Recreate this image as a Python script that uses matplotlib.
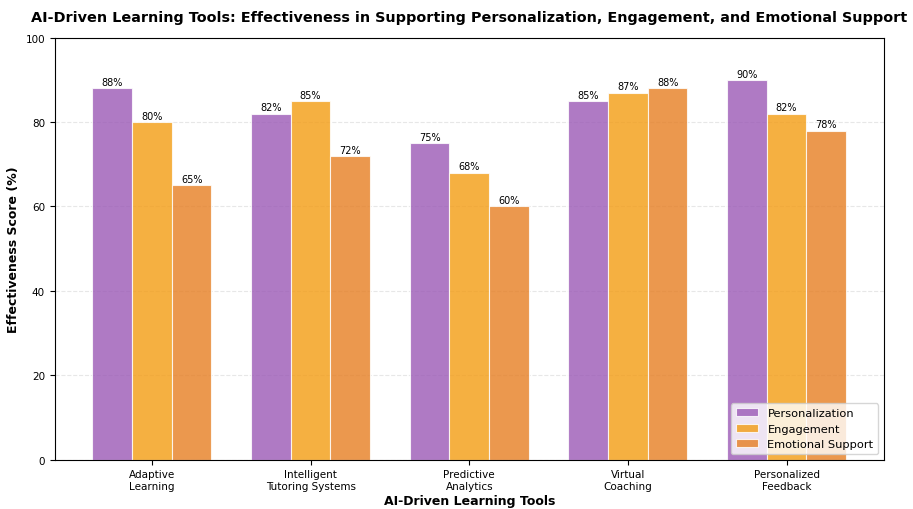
"""Grouped bar chart of AI-driven learning tool effectiveness."""

import numpy as np
import matplotlib.pyplot as plt

# Data
tools = [
    "Adaptive\nLearning",
    "Intelligent\nTutoring Systems",
    "Predictive\nAnalytics",
    "Virtual\nCoaching",
    "Personalized\nFeedback",
]
personalization = [88, 82, 75, 85, 90]
engagement = [80, 85, 68, 87, 82]
emotional_support = [65, 72, 60, 88, 78]

series = [
    ("Personalization", personalization, "#9b59b6"),
    ("Engagement", engagement, "#f39c12"),
    ("Emotional Support", emotional_support, "#e67e22"),
]

fig, ax = plt.subplots(figsize=(9.13, 5.1), dpi=100)

x = np.arange(len(tools))
width = 0.25

for i, (label, values, color) in enumerate(series):
    bars = ax.bar(x + (i - 1) * width, values, width, label=label,
                  color=color, alpha=0.8, edgecolor="white", linewidth=0.8)
    # Value labels on top of each bar
    for bar in bars:
        h = bar.get_height()
        ax.text(bar.get_x() + bar.get_width() / 2, h + 0.3, f"{h:.0f}%",
                ha="center", va="bottom", fontsize=7)

ax.set_ylim(0, 100)
ax.set_xticks(x)
ax.set_xticklabels(tools, fontsize=7.5)
ax.tick_params(axis="y", labelsize=7.5)
ax.set_xlabel("AI-Driven Learning Tools", fontsize=9, fontweight="bold",
              labelpad=2)
ax.set_ylabel("Effectiveness Score (%)", fontsize=9, fontweight="bold")
ax.set_title("AI-Driven Learning Tools: Effectiveness in Supporting "
             "Personalization, Engagement, and Emotional Support",
             fontsize=10.4, fontweight="bold", pad=12)
ax.yaxis.grid(True, linestyle="--", alpha=0.3)
ax.set_axisbelow(True)
ax.legend(loc="lower right", fontsize=8.2)

fig.subplots_adjust(left=0.06, right=0.968, top=0.924, bottom=0.097)
fig.savefig("out.png", dpi=100)
